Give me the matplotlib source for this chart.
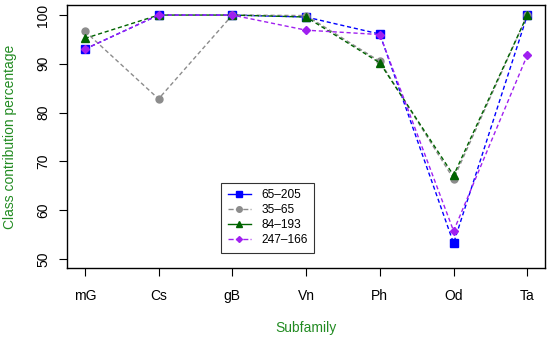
import numpy as np
import matplotlib
matplotlib.use("Agg")
from matplotlib import pyplot as plt

plt.rcParams['font.family'] = ['Liberation Sans', 'DejaVu Sans']

subfamilies = ['mG', 'Cs', 'gB', 'Vn', 'Ph', 'Od', 'Ta']
labels = ['65\u2013205', '35\u201365', '84\u2013193', '247\u2013166']

s_65_205 = [93.0, 100.0, 100.0, 99.6, 96.1, 53.2, 100.0]
s_35_65 = [96.7, 82.8, 100.0, 99.9, 90.5, 66.4, 100.0]
s_84_193 = [95.2, 100.0, 100.0, 99.6, 90.2, 67.1, 100.0]
s_247_166 = [93.0, 100.0, 100.0, 96.9, 96.0, 55.7, 91.8]

series = [s_65_205, s_35_65, s_84_193, s_247_166]
colors = ['#0000FF', '#8C8C8C', '#006400', '#A020F0']
markers = ['s', 'o', '^', 'D']
msizes = [6, 5, 6, 4]
legend_ls = ['-', '--', '-', '--']

fig = plt.figure(figsize=(5.5, 3.38), dpi=100)
ax = fig.add_axes([0.122, 0.207, 0.869, 0.778])

x = np.arange(len(subfamilies))
for vals, c, m, ms, lab in zip(series, colors, markers, msizes, labels):
    ax.plot(x, vals, linestyle=(0, (3, 2)), color=c, marker=m, markersize=ms,
            linewidth=1, label=lab)

ax.set_xlim(-0.24, 6.24)
ax.set_ylim(48.1, 102.05)
ax.set_xticks(x)
ax.set_xticklabels(subfamilies)
ax.set_yticks([50, 60, 70, 80, 90, 100])
ax.tick_params(axis='y', labelrotation=90, length=6, width=0.8, labelsize=10, pad=6)
ax.tick_params(axis='x', length=6, width=0.8, labelsize=10, pad=9)
for lbl in ax.get_yticklabels():
    lbl.set_va('center')
for sp in ax.spines.values():
    sp.set_linewidth(1)

ax.set_xlabel('Subfamily', color='#228B22', fontsize=10, labelpad=13)
ax.set_ylabel('Class contribution percentage', color='#228B22', fontsize=10, labelpad=14)

handles = []
for c, m, ms, ls, lab in zip(colors, markers, msizes, legend_ls, labels):
    h, = ax.plot([], [], color=c, marker=m, markersize=ms - 1, linestyle=ls,
                 linewidth=1, label=lab)
    handles.append(h)
leg = ax.legend(handles=handles, loc='lower left', bbox_to_anchor=(0.31, 0.035),
                fontsize=8.6, frameon=True, fancybox=False, edgecolor='black',
                handlelength=1.9, borderpad=0.55, labelspacing=0.25, handletextpad=0.9)
leg.get_frame().set_linewidth(0.8)

fig.savefig('out.png', dpi=100)
